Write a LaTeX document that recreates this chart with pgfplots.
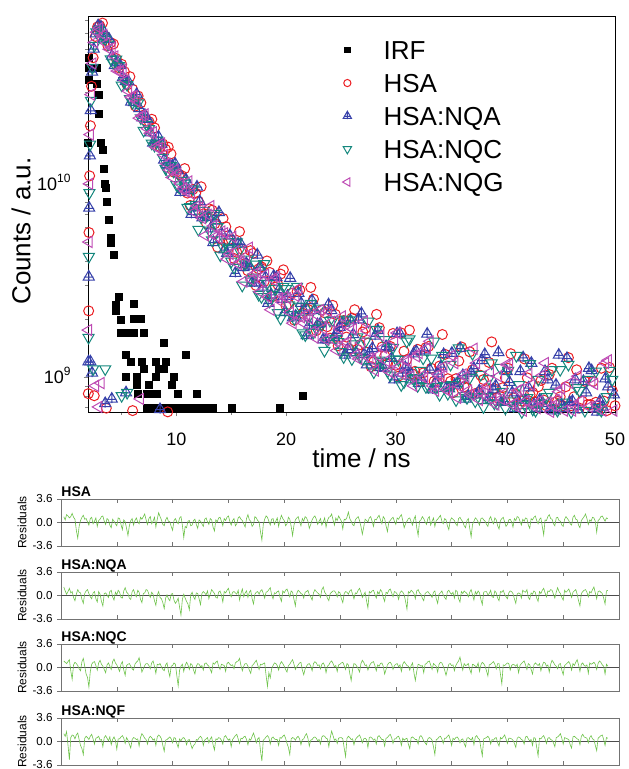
\documentclass[border=0pt]{standalone}
\usepackage{fontspec}
\setmainfont{Liberation Sans}
\usepackage{pgfplots}
\usepackage{pgfplotstable}
\pgfplotsset{compat=1.18}

\definecolor{cHSA}{RGB}{235,30,35}
\definecolor{cNQA}{RGB}{55,65,170}
\definecolor{cNQC}{RGB}{20,135,125}
\definecolor{cNQG}{RGB}{190,75,180}
\definecolor{cRes}{RGB}{110,195,75}

% up triangle with a cross through it (HSA:NQA)
\pgfdeclareplotmark{tricross}{%
  \pgfpathmoveto{\pgfqpoint{0pt}{\pgfplotmarksize}}%
  \pgfpathlineto{\pgfqpoint{-0.866\pgfplotmarksize}{-0.5\pgfplotmarksize}}%
  \pgfpathlineto{\pgfqpoint{0.866\pgfplotmarksize}{-0.5\pgfplotmarksize}}%
  \pgfpathclose
  \pgfpathmoveto{\pgfqpoint{0pt}{\pgfplotmarksize}}%
  \pgfpathlineto{\pgfqpoint{0pt}{-0.65\pgfplotmarksize}}%
  \pgfpathmoveto{\pgfqpoint{-0.75\pgfplotmarksize}{-0.05\pgfplotmarksize}}%
  \pgfpathlineto{\pgfqpoint{0.75\pgfplotmarksize}{-0.05\pgfplotmarksize}}%
  \pgfusepathqstroke}

% residuals, evenly sampled (391 channels each)
\pgfplotstableread[row sep=\\,header=false]{
0.9\\0.4\\1.2\\1.0\\0.7\\0.9\\1.4\\0.8\\0.5\\-1.2\\-2.4\\-0.6\\0.3\\0.8\\1.1\\0.5\\0.6\\0.1\\-0.4\\0.6\\
0.8\\-0.2\\0.2\\0.7\\-0.6\\0.3\\0.5\\0.9\\1.0\\0.2\\-0.3\\0.6\\0.4\\-0.4\\-0.8\\0.5\\0.2\\-0.2\\-0.5\\0.7\\
0.6\\-0.3\\-1.1\\0.4\\0.1\\-0.9\\-2.0\\-0.5\\0.3\\0.6\\-0.4\\0.3\\0.7\\0.1\\-0.2\\0.8\\0.5\\0.9\\1.3\\0.4\\
-0.3\\0.6\\0.9\\-0.2\\0.2\\0.8\\-0.7\\0.5\\1.5\\0.9\\0.4\\-0.3\\-0.5\\0.4\\0.8\\0.2\\0.1\\-0.6\\-1.2\\0.3\\
0.6\\0.1\\-0.2\\0.7\\0.9\\-0.4\\-2.3\\-0.6\\-0.8\\0.2\\0.3\\-0.5\\-0.4\\0.3\\0.5\\-0.3\\-0.9\\0.4\\0.2\\-0.2\\
-0.6\\0.5\\0.7\\0.1\\-0.3\\0.6\\0.4\\-0.7\\-1.3\\0.4\\0.1\\0.7\\0.8\\0.2\\-0.5\\0.6\\0.3\\0.8\\1.0\\0.2\\
-0.4\\0.3\\0.6\\-0.5\\-0.2\\0.7\\0.9\\0.5\\0.3\\-0.2\\-0.7\\0.6\\1.2\\0.4\\0.2\\-0.6\\-0.3\\0.9\\0.7\\0.3\\
0.1\\-1.4\\-2.7\\-0.3\\0.5\\1.0\\0.8\\0.2\\-0.4\\0.5\\0.6\\-0.3\\0.2\\0.7\\-0.6\\0.4\\1.1\\0.6\\0.3\\-0.5\\
-0.2\\0.8\\0.5\\-0.6\\-2.0\\-0.4\\0.4\\0.7\\0.9\\0.1\\-0.5\\0.6\\0.2\\0.9\\0.7\\0.2\\-0.9\\-0.3\\0.4\\0.8\\
1.0\\0.5\\-0.3\\0.2\\0.6\\-0.4\\0.1\\0.7\\-0.7\\0.3\\0.8\\0.9\\1.3\\0.4\\-0.4\\0.7\\0.3\\1.0\\0.6\\0.2\\
-1.0\\0.5\\0.4\\0.8\\1.6\\0.6\\0.2\\-0.3\\-0.5\\0.4\\0.7\\0.9\\0.3\\-0.6\\-1.8\\-0.7\\0.5\\0.3\\0.1\\0.7\\
0.9\\0.2\\-0.6\\0.5\\0.4\\0.8\\1.1\\0.4\\-0.2\\0.9\\0.6\\-0.5\\-1.4\\0.1\\0.3\\0.6\\0.8\\0.2\\-0.3\\0.7\\
0.5\\0.9\\1.2\\0.3\\-0.8\\-0.2\\0.2\\0.6\\0.7\\0.1\\-0.4\\0.5\\1.0\\-0.8\\-2.0\\0.2\\0.4\\0.9\\0.6\\0.1\\
-0.3\\0.6\\0.9\\-0.4\\0.2\\0.7\\-0.6\\0.3\\0.5\\0.8\\1.1\\0.2\\-0.2\\0.6\\0.4\\-0.5\\-1.1\\0.3\\0.7\\0.5\\
0.3\\-0.2\\-0.5\\0.6\\0.8\\0.4\\0.1\\-0.5\\-0.8\\0.3\\0.6\\-0.9\\-2.2\\-0.3\\0.2\\0.7\\0.5\\0.1\\-0.4\\0.6\\
0.7\\0.4\\0.2\\-0.3\\-0.6\\0.5\\0.9\\0.2\\-0.2\\0.7\\0.4\\-0.5\\-1.0\\0.3\\0.6\\0.8\\0.1\\-0.6\\-0.3\\0.4\\
0.5\\0.1\\-0.7\\0.6\\0.3\\0.9\\0.8\\0.2\\-0.4\\0.5\\0.2\\0.7\\0.6\\-0.4\\-0.9\\0.6\\0.4\\0.8\\1.0\\0.3\\
-0.2\\0.5\\0.7\\-0.6\\-1.9\\0.4\\0.3\\0.9\\1.2\\0.6\\0.5\\-0.2\\-0.5\\0.7\\0.8\\0.3\\0.2\\-0.4\\-0.6\\0.5\\
0.9\\0.6\\0.3\\-0.2\\-0.4\\0.8\\1.1\\0.5\\0.4\\-0.4\\-0.8\\0.3\\0.6\\0.9\\1.3\\0.6\\-0.3\\0.4\\0.2\\0.8\\
0.7\\0.2\\-1.5\\0.3\\0.5\\0.9\\1.0\\0.6\\0.2\\0.7\\0.6\\
}\resA
\pgfplotstableread[row sep=\\,header=false]{
1.3\\0.7\\0.2\\0.6\\1.1\\0.4\\0.6\\-0.3\\-0.8\\0.2\\0.9\\0.5\\0.4\\-0.6\\-1.2\\0.3\\0.7\\0.9\\0.3\\-0.2\\
-0.5\\0.4\\0.6\\-0.5\\-1.0\\0.6\\0.2\\-0.9\\-1.6\\0.3\\0.4\\0.1\\-0.3\\0.6\\0.8\\-0.2\\-0.7\\0.5\\0.1\\0.8\\
0.5\\-0.3\\-0.4\\0.7\\1.2\\0.5\\0.3\\-0.4\\-0.6\\0.6\\0.9\\0.2\\-0.2\\0.8\\0.5\\-0.6\\-1.1\\0.3\\0.4\\0.9\\
0.8\\0.2\\-0.3\\0.5\\0.2\\-0.8\\-1.5\\0.1\\0.6\\-0.3\\-0.5\\-1.1\\-2.0\\-0.4\\0.1\\-0.5\\-0.8\\0.2\\0.3\\-0.7\\
-1.2\\-0.9\\-0.4\\-1.8\\-3.0\\-0.6\\0.2\\-0.4\\-0.9\\-1.3\\-2.2\\0.1\\0.5\\-0.2\\-0.6\\0.4\\0.3\\-0.5\\-1.4\\0.3\\
0.6\\0.4\\0.1\\0.7\\-0.5\\0.2\\0.9\\0.6\\0.3\\-0.3\\-0.4\\0.5\\0.7\\0.1\\-1.0\\0.6\\0.4\\0.8\\1.1\\0.3\\
-0.2\\0.5\\0.6\\0.4\\0.2\\0.8\\-0.7\\0.3\\1.0\\-0.2\\0.4\\0.7\\-0.3\\0.5\\0.8\\-0.5\\-1.3\\0.2\\0.5\\0.6\\
0.2\\0.7\\0.9\\0.3\\-0.4\\0.5\\0.6\\0.9\\1.2\\0.1\\-0.5\\0.4\\0.3\\0.6\\0.7\\-0.3\\-0.9\\0.7\\0.4\\0.8\\
1.0\\0.4\\-0.2\\0.7\\0.5\\-0.6\\-1.6\\0.3\\0.8\\0.6\\0.3\\0.2\\-0.4\\0.5\\0.6\\0.8\\0.1\\-0.2\\-0.7\\0.4\\
0.9\\0.6\\0.4\\0.2\\-0.3\\0.9\\1.3\\0.5\\0.2\\-0.4\\-0.8\\0.3\\0.5\\0.7\\0.7\\0.4\\-0.2\\0.6\\0.4\\-0.5\\
-1.1\\0.3\\0.6\\0.5\\0.2\\0.7\\0.9\\0.2\\-0.5\\0.4\\0.3\\0.8\\1.1\\0.5\\-0.3\\0.1\\0.5\\-0.8\\-1.9\\0.6\\
0.4\\0.7\\0.8\\0.2\\-0.4\\0.6\\0.2\\0.9\\0.6\\-0.3\\-0.9\\0.5\\0.3\\0.8\\1.0\\0.4\\-0.2\\0.6\\0.5\\0.2\\
-0.6\\0.4\\0.7\\0.5\\0.1\\-0.9\\-2.1\\0.6\\0.4\\0.8\\0.6\\0.3\\-0.5\\0.7\\0.9\\0.4\\0.2\\-0.4\\-0.8\\0.3\\
0.5\\0.6\\0.3\\0.1\\-0.3\\0.5\\0.7\\-0.5\\-1.2\\0.2\\0.4\\0.7\\0.1\\-0.3\\-0.6\\0.6\\0.8\\0.4\\0.2\\0.5\\
-0.4\\0.8\\0.6\\-0.5\\-1.0\\0.6\\0.3\\0.7\\0.5\\0.3\\-0.2\\0.5\\0.9\\0.1\\-0.7\\0.6\\0.2\\0.7\\0.4\\-0.6\\
-1.4\\0.5\\0.6\\0.6\\0.1\\0.3\\0.8\\-0.2\\-0.3\\0.7\\0.4\\-0.4\\-0.8\\0.6\\0.5\\0.8\\0.2\\-0.2\\-0.5\\0.4\\
0.7\\0.6\\0.3\\-0.5\\-1.2\\0.2\\0.4\\0.3\\-0.4\\0.8\\0.6\\0.5\\0.9\\-0.3\\-0.6\\0.4\\0.2\\0.7\\0.5\\-0.4\\
-0.9\\0.6\\0.3\\0.8\\1.1\\0.4\\-0.2\\0.7\\0.6\\0.9\\0.8\\0.2\\-0.4\\0.5\\1.2\\0.6\\0.3\\-0.3\\-0.7\\0.8\\
0.5\\0.7\\1.0\\0.4\\-0.3\\0.5\\0.7\\0.9\\0.2\\-0.8\\-1.6\\0.3\\0.6\\0.8\\0.9\\0.5\\-0.2\\0.6\\0.4\\0.9\\
1.3\\0.4\\-0.5\\0.6\\0.7\\0.5\\0.3\\-0.4\\-1.3\\0.7\\0.8\\
}\resB
\pgfplotstableread[row sep=\\,header=false]{
1.0\\0.8\\0.6\\0.9\\1.2\\-0.5\\-1.8\\0.4\\0.8\\0.6\\0.3\\-0.2\\-0.5\\0.9\\1.4\\0.2\\-1.0\\-1.5\\-3.0\\-0.6\\
0.5\\0.8\\0.9\\0.3\\-0.4\\0.7\\1.1\\0.5\\0.2\\-0.3\\-0.8\\0.4\\0.7\\0.2\\-0.3\\0.9\\1.3\\0.7\\0.4\\-0.1\\
-0.6\\0.5\\0.9\\-0.4\\-1.2\\0.3\\0.5\\0.6\\0.2\\-0.2\\-0.4\\0.5\\0.8\\1.0\\1.5\\0.4\\-0.7\\-0.2\\0.3\\0.6\\
0.6\\0.3\\-0.2\\0.7\\1.0\\0.2\\-0.9\\0.5\\0.4\\0.6\\0.1\\-0.3\\-0.5\\0.4\\0.7\\-0.5\\-1.4\\0.2\\0.3\\0.7\\
0.5\\-1.2\\-2.8\\-0.4\\0.2\\0.5\\-0.6\\0.3\\0.8\\0.4\\-0.3\\0.6\\0.4\\-0.4\\-1.0\\0.2\\0.6\\0.5\\0.1\\0.3\\
-0.4\\0.6\\0.7\\0.4\\0.2\\-0.3\\-0.8\\0.7\\0.5\\0.8\\1.0\\0.2\\-0.3\\0.5\\0.4\\0.3\\-0.6\\0.6\\0.8\\0.5\\
0.3\\0.4\\-0.2\\0.7\\0.9\\1.0\\1.4\\0.3\\-0.5\\0.2\\0.6\\0.6\\0.2\\-0.4\\-0.9\\0.3\\0.5\\0.8\\1.1\\0.4\\
-0.3\\0.5\\0.4\\0.6\\0.7\\-1.2\\-2.9\\-0.8\\-1.6\\-0.2\\0.3\\0.7\\0.6\\0.3\\-0.4\\0.5\\0.9\\0.6\\0.2\\-0.3\\
-0.7\\0.3\\0.5\\0.9\\1.2\\0.5\\-0.3\\0.1\\0.4\\0.7\\0.8\\-0.4\\-1.1\\-0.2\\0.2\\0.5\\0.6\\0.2\\-0.5\\0.6\\
0.9\\0.7\\0.3\\0.4\\-0.2\\0.5\\0.7\\0.3\\-0.8\\0.2\\0.4\\0.8\\1.0\\0.6\\0.1\\0.3\\-0.6\\0.4\\0.5\\0.7\\
0.8\\0.3\\-0.3\\0.6\\0.4\\-0.9\\-2.0\\-0.3\\0.6\\0.5\\0.2\\-0.2\\-0.7\\0.6\\1.1\\0.8\\0.3\\0.4\\-0.4\\0.2\\
0.6\\0.8\\0.9\\0.3\\-0.5\\0.4\\0.2\\0.6\\0.7\\0.2\\-1.0\\-0.3\\0.4\\0.7\\0.8\\0.5\\-0.3\\0.3\\0.5\\0.6\\
0.1\\0.4\\-0.6\\0.5\\0.9\\0.6\\0.3\\0.2\\-0.4\\0.3\\0.7\\-0.8\\-2.0\\-0.6\\0.5\\0.4\\0.2\\0.3\\-0.8\\0.5\\
0.6\\0.9\\1.0\\0.4\\-0.3\\0.6\\0.4\\0.2\\-0.7\\0.5\\0.8\\0.7\\0.2\\-0.4\\-1.2\\-0.3\\0.5\\0.6\\0.3\\0.4\\
-0.5\\0.3\\0.7\\1.0\\1.6\\0.5\\-0.4\\0.6\\0.3\\0.4\\0.6\\-0.3\\-0.9\\0.5\\0.4\\0.2\\0.1\\0.7\\-0.6\\0.4\\
0.8\\0.6\\0.2\\-0.5\\-1.3\\0.4\\0.5\\0.7\\0.9\\0.5\\-0.2\\0.6\\0.6\\-1.0\\-2.5\\0.4\\0.3\\0.5\\0.7\\0.6\\
-0.4\\0.3\\0.5\\0.4\\0.2\\0.5\\-0.8\\0.3\\0.6\\0.8\\1.0\\0.4\\-0.3\\0.6\\0.4\\-0.3\\-1.0\\0.4\\0.7\\0.5\\
0.3\\0.6\\-0.5\\0.3\\0.8\\0.7\\0.2\\0.4\\-0.7\\0.5\\1.1\\0.8\\0.4\\0.2\\-0.2\\0.5\\0.6\\-0.4\\-1.1\\0.3\\
0.5\\0.7\\0.9\\0.5\\-0.4\\0.6\\0.3\\0.8\\1.2\\0.4\\-0.6\\0.5\\0.7\\0.3\\0.2\\0.4\\-0.9\\0.7\\0.5\\0.6\\
0.8\\0.5\\-0.3\\0.6\\1.0\\0.8\\0.4\\0.2\\-1.0\\0.5\\0.2\\
}\resC
\pgfplotstableread[row sep=\\,header=false]{
1.2\\0.8\\1.5\\-0.5\\-2.8\\0.6\\1.0\\0.9\\0.4\\1.0\\1.3\\0.3\\-0.6\\-1.1\\-2.0\\0.5\\0.8\\0.6\\0.3\\0.8\\
1.1\\0.4\\-0.4\\0.5\\0.6\\0.8\\0.2\\0.3\\-0.8\\0.6\\0.9\\0.5\\0.1\\0.7\\-0.5\\0.3\\0.7\\0.2\\-1.2\\0.4\\
0.4\\0.7\\0.9\\0.5\\-0.3\\0.6\\0.2\\-0.4\\-1.0\\0.3\\0.6\\0.5\\0.3\\0.4\\-0.7\\0.6\\1.2\\0.9\\0.5\\0.3\\
-0.4\\0.5\\0.8\\0.6\\0.2\\0.4\\-0.6\\0.7\\1.0\\0.8\\0.4\\-0.6\\-1.5\\0.2\\0.3\\0.5\\0.7\\0.4\\-0.2\\0.6\\
0.5\\-0.3\\-0.9\\0.4\\0.1\\0.5\\0.6\\0.3\\-0.5\\0.2\\0.3\\-0.4\\-1.1\\-0.6\\-0.4\\0.3\\0.2\\0.6\\0.8\\0.5\\
-0.6\\0.2\\0.4\\0.6\\-0.2\\0.4\\0.7\\-0.5\\-1.3\\0.4\\0.3\\0.6\\0.5\\0.2\\-0.4\\0.7\\0.9\\0.5\\0.2\\0.4\\
-0.8\\0.3\\0.6\\0.9\\1.1\\0.4\\-0.3\\0.5\\0.4\\0.7\\0.8\\0.3\\-0.5\\0.4\\0.2\\0.8\\1.3\\0.6\\-0.2\\0.4\\
0.6\\-1.4\\-3.0\\0.2\\0.4\\0.7\\0.9\\0.6\\-0.4\\0.5\\0.7\\0.4\\0.3\\0.3\\-0.6\\0.6\\0.5\\0.8\\1.0\\0.5\\
-0.3\\-0.9\\-2.0\\0.4\\0.6\\0.5\\0.2\\0.6\\0.8\\0.4\\-0.5\\0.3\\0.4\\0.9\\1.2\\0.5\\-0.7\\0.2\\0.3\\0.6\\
0.7\\0.5\\0.1\\0.3\\-0.4\\0.7\\0.9\\0.8\\0.5\\0.4\\-0.8\\0.6\\1.6\\0.9\\0.2\\0.4\\-0.3\\0.5\\0.6\\0.6\\
0.4\\-1.0\\-2.3\\0.5\\0.8\\0.6\\0.3\\0.4\\-0.5\\0.3\\0.6\\0.8\\1.0\\0.5\\-0.2\\0.4\\0.5\\0.3\\-0.9\\0.6\\
0.7\\0.5\\0.2\\0.4\\-0.4\\0.7\\0.9\\0.6\\0.3\\0.3\\-0.7\\0.5\\0.6\\0.9\\1.1\\0.6\\-0.3\\0.4\\0.4\\0.7\\
0.8\\0.3\\-0.6\\0.5\\0.2\\0.4\\0.5\\-0.4\\-1.1\\0.6\\0.7\\0.5\\0.3\\0.3\\-0.4\\0.7\\0.9\\0.6\\0.1\\-0.2\\
-0.5\\0.4\\0.6\\0.5\\0.2\\-0.8\\-2.0\\0.3\\0.4\\0.7\\0.8\\0.4\\-0.3\\0.5\\0.5\\0.8\\1.0\\0.3\\-0.6\\0.5\\
0.3\\0.6\\0.7\\0.4\\-0.2\\0.3\\0.4\\-0.3\\-0.8\\0.5\\0.6\\0.4\\0.2\\0.6\\-0.5\\0.7\\0.9\\0.5\\0.3\\-1.0\\
-2.2\\0.4\\0.5\\0.6\\0.8\\0.5\\-0.4\\0.3\\0.2\\0.5\\0.6\\-0.2\\-0.7\\0.6\\0.4\\0.7\\1.0\\0.4\\-0.3\\0.5\\
0.5\\0.4\\0.2\\-0.3\\-0.9\\0.5\\0.7\\0.6\\0.3\\0.2\\-0.4\\0.7\\0.8\\0.4\\0.1\\0.3\\-0.6\\0.6\\0.5\\-0.9\\
-2.2\\0.5\\0.4\\0.7\\0.9\\0.4\\-0.3\\0.5\\0.6\\0.3\\0.2\\-0.2\\-0.8\\0.6\\0.7\\0.9\\1.2\\0.5\\-0.4\\0.6\\
0.5\\0.4\\0.3\\-0.5\\-1.0\\0.7\\0.8\\0.6\\0.4\\0.3\\-0.5\\0.8\\1.1\\0.7\\0.6\\0.5\\-0.2\\0.6\\0.9\\0.4\\
0.3\\-0.6\\-1.4\\0.5\\0.7\\0.9\\1.0\\0.3\\-0.6\\0.6\\0.5\\
}\resD

\pgfplotsset{
  resid/.style={anchor=south west, scale only axis, width=279pt, height=23.5pt,
    xmin=0, xmax=10, ymin=-3.6, ymax=3.6,
    xtick={0,1,...,10}, xticklabels={}, ytick={-3.6,0,3.6}, yticklabels={-3.6,0.0,3.6},
    tick align=inside, xtick pos=both, ytick pos=left, major tick length=1.8pt,
    y tick style={xshift=-1.8pt},
    axis line style={black!55}, tick style={black!55},
    tick label style={font=\fontsize{5.8}{6}\selectfont},
    yticklabel style={inner sep=0pt, xshift=-4pt},
    ylabel={Residuals},
    every axis y label/.style={at={(axis description cs:-0.0699,0.5)}, rotate=90, anchor=center, font=\fontsize{6}{7}\selectfont},
    every axis title/.style={at={(axis description cs:0,1)}, anchor=base west, inner sep=0pt, yshift=1pt, font=\bfseries\fontsize{7}{8}\selectfont}
  },
  resline/.style={cRes, line width=0.3pt}
}

\begin{document}
\begin{tikzpicture}
\useasboundingbox (0,0) rectangle (314pt,384.5pt);

% decay curves, counts in units of 1e9
\begin{axis}[at={(44pt,178.5pt)}, anchor=south west, scale only axis, width=263.5pt, height=198pt,
  ymode=log, xmin=1.93, xmax=50, ymin=0.659, ymax=74,
  xtick={10,20,30,40,50}, minor xtick={5,15,25,35,45},
  ytick={1,10}, yticklabels={10\textsuperscript{9},10\textsuperscript{10}},
  minor ytick={0.7,0.8,0.9,2,3,4,5,6,7,8,9,20,30,40,50,60,70},
  xtick pos=bottom, ytick pos=left, tick align=outside,
  major tick length=2.2pt, minor tick length=1.6pt,
  tick label style={font=\fontsize{9}{10}\selectfont},
  /pgf/number format/assume math mode=true,
  xticklabel style={yshift=-4.5pt},
  yticklabel style={anchor=base east, yshift=-3.2pt, xshift=-2.5pt},
  xlabel={time / ns}, ylabel={Counts / a.u.},
  every axis x label/.style={at={(axis description cs:0.519,-0.139)}, anchor=base, font=\fontsize{13}{15}\selectfont},
  every axis y label/.style={at={(axis description cs:-0.127,0.457)}, rotate=90, anchor=center, font=\fontsize{13}{15}\selectfont},
  legend cell align=left,
  legend image code/.code={\path (-0.3cm,0cm) (0.63cm,0cm); \draw[#1] plot coordinates {(0cm,0cm)};},
  legend style={draw=none, fill=none, inner sep=0pt, outer sep=0pt,
    at={(axis description cs:0.459,0.938)}, anchor=north west, row sep=7pt,
    font=\fontsize{13}{15}\selectfont, nodes={inner sep=0pt, text height=9.5pt, text depth=0pt}}
]
\addplot[only marks, mark=square*, mark size=1.75pt, black, legend image post style={mark size=1.3pt}] coordinates {
(1.95,16.3)(1.98,34.5)(2.0,40)(2.03,45)
(2.72,40)(2.75,33)(2.9,29)(2.95,23)(3.09,16.3)(3.27,15)(3.36,12)(3.5,10)(3.58,9.5)(3.64,8.1)
(3.82,6.5)(4.0,5.25)(4.05,4.95)(4.27,4.3)(4.73,2.6)(4.46,2.35)(4.5,2.2)(6.1,2.4)(4.91,1.98)
(6.1,2.0)(6.74,2.0)(4.91,1.7)(5.46,1.7)(6.1,1.7)(7.0,1.7)(8.84,1.5)(5.37,1.3)(10.85,1.3)
(5.83,1.2)(6.83,1.2)(8.1,1.2)(9.0,1.2)(7.0,1.1)(8.4,1.1)(8.84,1.1)(5.37,1.0)(6.37,1.0)
(8.1,1.0)(9.75,1.0)(6.37,0.91)(7.47,0.91)(9.57,0.91)(6.5,0.82)(7.3,0.82)(7.9,0.82)(8.2,0.82)
(10.1,0.82)(11.85,0.82)(7.3,0.69)(7.8,0.69)(8.3,0.69)(8.8,0.69)(9.3,0.69)(9.8,0.69)(10.3,0.69)
(10.8,0.69)(11.3,0.69)(11.8,0.69)(12.3,0.69)(12.8,0.69)(13.3,0.69)(15.1,0.69)(19.4,0.69)(21.5,0.8)
};
\addlegendentry{IRF}
\addplot[only marks, mark=o, mark size=2.5pt, cHSA, mark options={line width=0.5pt}, legend image post style={mark size=1.8pt}] coordinates {
(1.96,0.82)(1.99,2.2)(2.02,5.6)(2.08,11)(2.15,20)(2.25,32)(2.4,45)(2.6,58)(2.8,65)
(2.5,0.8)(3.6,0.69)(6.0,0.67)(9.2,0.66)
(3.0,66)(3.5,58.1)(4.0,53.8)(4.5,44.5)(5.0,41.6)(5.5,32.5)(6.0,30.9)(6.5,28.5)(7.0,22.7)(7.5,21.0)
(8.0,19.5)(8.5,15.5)(9.0,15.1)(9.5,14.3)(10.0,11.5)(10.5,11.0)(11.0,8.96)(11.5,9.36)(12.0,8.13)
(12.5,7.00)(13.0,7.42)(13.5,6.22)(14.0,5.19)(14.5,6.00)(15.0,5.13)(15.5,4.42)(16.0,4.59)(16.5,3.55)
(17.0,4.37)(17.5,3.63)(18.0,3.12)(18.5,3.48)(19.0,2.92)(19.5,3.41)(20.0,2.33)(20.5,2.71)(21.0,2.77)
(21.5,2.14)(22.0,2.24)(22.5,2.53)(23.0,1.84)(23.5,2.15)(24.0,1.59)(24.5,2.11)(25.0,1.82)(25.5,1.61)
(26.0,2.02)(26.5,1.39)(27.0,1.71)(27.5,1.50)(28.0,1.20)(28.5,1.80)(29.0,1.29)(29.5,1.44)(30.0,1.15)
(30.5,1.69)(31.0,1.23)(31.5,1.04)(32.0,1.39)(32.5,1.05)(33.0,1.44)(33.5,0.95)(34.0,1.14)(34.5,1.31)
(35.0,0.95)(35.5,0.98)(36.0,1.43)(36.5,0.88)(37.0,1.09)(37.5,0.83)(38.0,0.97)(38.5,1.19)(39.0,0.87)
(39.5,0.80)(40.0,0.99)(40.5,1.32)(41.0,0.81)(41.5,0.75)(42.0,0.99)(42.5,0.83)(43.0,0.89)(43.5,0.76)
(44.0,1.03)(44.5,0.74)(45.0,0.79)(45.5,0.89)(46.0,0.71)(46.5,1.09)(47.0,0.75)(47.5,0.72)(48.0,0.95)
(48.5,0.69)(49.0,0.75)(49.5,1.12)(50.0,0.71)
(3.25,68)(3.75,51.8)(4.25,53.0)(4.75,39.9)(5.25,38.1)(5.75,35.9)(6.25,25.3)(6.75,26.3)(7.25,21.2)
(7.75,21.6)(8.25,15.8)(8.75,16.1)(9.25,15.5)(9.75,11.5)(10.25,11.2)(10.75,12.0)(11.25,7.73)(11.75,8.94)
(12.25,9.66)(12.75,6.22)(13.25,7.31)(13.75,4.70)(14.25,6.62)(14.75,5.13)(15.25,4.11)(15.75,5.66)
(16.25,3.87)(16.75,4.51)(17.25,2.98)(17.75,3.72)(18.25,3.99)(18.75,2.60)(19.25,3.01)(19.75,3.59)
(20.25,2.38)(20.75,1.97)(21.25,2.82)(21.75,2.25)(22.25,2.91)(22.75,1.74)(23.25,2.22)(23.75,1.82)
(24.25,2.35)(24.75,1.45)(25.25,1.96)(25.75,1.40)(26.25,2.23)(26.75,1.47)(27.25,1.79)(27.75,1.13)
(28.25,2.11)(28.75,1.43)(29.25,1.17)(29.75,1.68)(30.25,1.01)(30.75,1.36)(31.25,1.75)(31.75,1.07)
(32.25,0.95)(32.75,1.42)(33.25,1.11)(33.75,0.94)(34.25,1.66)(34.75,0.98)(35.25,0.83)(35.75,1.21)
(36.25,0.89)(36.75,1.35)(37.25,0.82)(37.75,1.02)(38.25,0.86)(38.75,1.52)(39.25,0.78)(39.75,0.88)
(40.25,1.11)(40.75,0.78)(41.25,0.72)(41.75,1.24)(42.25,0.81)(42.75,0.74)(43.25,0.96)(43.75,0.71)
(44.25,1.11)(44.75,0.75)(45.25,0.71)(45.75,1.26)(46.25,0.79)(46.75,0.69)(47.25,0.95)(47.75,0.72)
(48.25,0.74)(48.75,1.11)(49.25,0.67)(49.75,0.85)
};
\addlegendentry{HSA}
\addplot[only marks, mark=tricross, mark size=3.2pt, cNQA, mark options={line width=0.5pt}, legend image post style={mark size=2.4pt}] coordinates {
(1.97,1.2)(2.0,3.3)(2.04,7.5)(2.1,14)(2.18,24)(2.3,38)(2.45,50)(2.65,60)(2.85,66)
(2.15,1.2)(2.3,1.05)(3.5,0.73)(4.1,0.77)(5.4,0.83)(8.5,0.68)
(3.12,64.9)(3.62,58.1)(4.12,45.9)(4.62,42.8)(5.12,35.6)(5.62,33.8)(6.12,26.4)(6.62,24.6)(7.12,22.7)
(7.62,18.4)(8.12,16.7)(8.62,16.1)(9.12,12.6)(9.62,12.4)(10.12,11.7)(10.62,9.41)(11.12,9.25)
(11.62,7.52)(12.12,8.11)(12.62,6.73)(13.12,5.87)(13.62,6.43)(14.12,5.53)(14.62,4.38)(15.12,4.88)
(15.62,4.89)(16.12,3.69)(16.62,3.76)(17.12,3.08)(17.62,3.71)(18.12,3.28)(18.62,2.67)(19.12,3.28)
(19.62,2.53)(20.12,2.62)(20.62,2.03)(21.12,2.72)(21.62,2.21)(22.12,1.86)(22.62,2.21)(23.12,1.89)
(23.62,1.56)(24.12,2.21)(24.62,1.69)(25.12,1.90)(25.62,1.39)(26.12,1.66)(26.62,1.98)(27.12,1.31)
(27.62,1.34)(28.12,1.63)(28.62,1.12)(29.12,1.44)(29.62,1.25)(30.12,1.68)(30.62,1.05)(31.12,1.10)
(31.62,1.32)(32.12,0.93)(32.62,1.37)(33.12,1.09)(33.62,0.93)(34.12,1.13)(34.62,0.88)(35.12,1.33)
(35.62,0.93)(36.12,1.02)(36.62,0.80)(37.12,1.11)(37.62,0.85)(38.12,1.31)(38.62,0.79)(39.12,0.90)
(39.62,0.74)(40.12,1.07)(40.62,0.83)(41.12,0.76)(41.62,1.26)(42.12,0.88)(42.62,0.72)(43.12,0.76)
(43.62,1.07)(44.12,0.69)(44.62,0.91)(45.12,0.72)(45.62,1.25)(46.12,0.75)(46.62,0.68)(47.12,0.95)
(47.62,1.11)(48.12,0.69)(48.62,0.75)(49.12,0.98)(49.62,0.65)(49.9,0.81)
(3.37,56.4)(3.87,56.0)(4.37,41.0)(4.87,41.1)(5.37,33.9)(5.87,26.6)(6.37,29.1)(6.87,22.0)(7.37,21.6)
(7.87,16.3)(8.37,17.5)(8.87,13.3)(9.37,12.5)(9.87,12.7)(10.37,9.06)(10.87,10.5)(11.37,6.96)(11.87,9.65)
(12.37,6.69)(12.87,6.77)(13.37,4.98)(13.87,7.12)(14.37,4.56)(14.87,5.40)(15.37,3.45)(15.87,4.88)
(16.37,3.88)(16.87,3.07)(17.37,4.29)(17.87,2.93)(18.37,2.41)(18.87,3.33)(19.37,2.84)(19.87,2.16)
(20.37,3.25)(20.87,2.07)(21.37,2.41)(21.87,1.64)(22.37,2.49)(22.87,1.87)(23.37,1.56)(23.87,2.37)
(24.37,1.61)(24.87,1.81)(25.37,1.30)(25.87,1.96)(26.37,1.34)(26.87,2.13)(27.37,1.16)(27.87,1.41)
(28.37,1.74)(28.87,1.11)(29.37,1.42)(29.87,0.97)(30.37,1.68)(30.87,1.12)(31.37,0.97)(31.87,1.36)
(32.37,0.97)(32.87,1.67)(33.37,0.86)(33.87,1.04)(34.37,1.31)(34.87,0.87)(35.37,0.91)(35.87,1.41)
(36.37,0.77)(36.87,1.05)(37.37,0.81)(37.87,1.22)(38.37,0.76)(38.87,0.86)(39.37,1.34)(39.87,0.75)
(40.37,0.94)(40.87,0.69)(41.37,1.07)(41.87,0.76)(42.37,1.18)(42.87,0.69)(43.37,0.73)(43.87,0.97)
(44.37,0.67)(44.87,1.30)(45.37,0.69)(45.87,0.74)(46.37,0.97)(46.87,0.63)(47.37,0.83)(47.87,1.08)
(48.37,0.66)(48.87,0.70)(49.37,0.89)(49.87,0.62)
};
\addlegendentry{HSA:NQA}
\addplot[only marks, mark=triangle, mark size=3.2pt, cNQC, mark options={rotate=180, line width=0.5pt}, legend image post style={mark size=2.4pt}] coordinates {
(1.98,1.6)(2.01,4.2)(2.06,9)(2.12,16)(2.2,27)(2.33,40)(2.5,52)(2.7,61)(2.95,63)
(2.4,1.1)(3.5,1.1)(5.0,0.8)(5.5,0.83)
(3.25,57.9)(3.75,52.8)(4.25,42.2)(4.75,40.8)(5.25,33.7)(5.75,27.6)(6.25,27.0)(6.75,21.9)(7.25,20.3)
(7.75,16.2)(8.25,16.8)(8.75,13.7)(9.25,11.6)(9.75,11.6)(10.25,9.59)(10.75,10.1)(11.25,7.60)
(11.75,7.82)(12.25,6.71)(12.75,6.83)(13.25,5.11)(13.75,5.99)(14.25,4.69)(14.75,4.62)(15.25,3.69)
(15.75,4.51)(16.25,3.84)(16.75,3.18)(17.25,3.83)(17.75,2.60)(18.25,3.05)(18.75,2.67)(19.25,2.15)
(19.75,2.94)(20.25,2.36)(20.75,2.00)(21.25,2.32)(21.75,1.65)(22.25,2.40)(22.75,1.78)(23.25,1.86)
(23.75,1.54)(24.25,1.97)(24.75,1.52)(25.25,1.27)(25.75,1.97)(26.25,1.48)(26.75,1.27)(27.25,1.53)
(27.75,1.13)(28.25,1.76)(28.75,1.20)(29.25,1.07)(29.75,1.42)(30.25,1.23)(30.75,0.94)(31.25,1.57)
(31.75,0.98)(32.25,1.08)(32.75,0.89)(33.25,1.25)(33.75,0.89)(34.25,1.29)(34.75,0.82)(35.25,0.91)
(35.75,1.41)(36.25,0.80)(36.75,0.99)(37.25,0.75)(37.75,1.03)(38.25,0.79)(38.75,1.18)(39.25,0.73)
(39.75,0.84)(40.25,1.08)(40.75,0.71)(41.25,0.91)(41.75,0.72)(42.25,1.17)(42.75,0.67)(43.25,0.73)
(43.75,0.79)(44.25,1.09)(44.75,0.67)(45.25,0.74)(45.75,1.16)(46.25,0.65)(46.75,0.85)(47.25,0.67)
(47.75,0.63)(48.25,1.07)(48.75,0.67)(49.25,0.79)(49.75,0.97)
(3.5,56.1)(4.0,44.3)(4.5,44.1)(5.0,32.4)(5.5,32.6)(6.0,26.3)(6.5,26.2)(7.0,18.9)(7.5,19.3)
(8.0,15.8)(8.5,15.9)(9.0,12.0)(9.5,12.4)(10.0,9.89)(10.5,10.4)(11.0,7.54)(11.5,9.40)(12.0,5.80)
(12.5,7.28)(13.0,5.75)(13.5,7.01)(14.0,4.27)(14.5,4.99)(15.0,3.97)(15.5,4.99)(16.0,2.98)(16.5,4.07)
(17.0,3.28)(17.5,2.67)(18.0,3.85)(18.5,2.46)(19.0,2.86)(19.5,2.01)(20.0,2.86)(20.5,2.10)(21.0,2.94)
(21.5,1.69)(22.0,2.01)(22.5,1.70)(23.0,2.27)(23.5,1.37)(24.0,1.96)(24.5,1.58)(25.0,1.35)(25.5,1.99)
(26.0,1.24)(26.5,1.61)(27.0,1.24)(27.5,1.94)(28.0,1.06)(28.5,1.22)(29.0,1.56)(29.5,1.02)(30.0,1.24)
(30.5,0.91)(31.0,1.53)(31.5,0.99)(32.0,0.90)(32.5,1.25)(33.0,0.89)(33.5,1.53)(34.0,0.81)(34.5,0.90)
(35.0,1.16)(35.5,0.76)(36.0,0.95)(36.5,0.78)(37.0,1.32)(37.5,0.79)(38.0,0.70)(38.5,0.98)(39.0,0.73)
(39.5,1.12)(40.0,0.69)(40.5,0.75)(41.0,1.29)(41.5,0.66)(42.0,0.78)(42.5,0.68)(43.0,0.97)(43.5,0.63)
(44.0,0.83)(44.5,0.69)(45.0,1.09)(45.5,0.63)(46.0,0.66)(46.5,0.88)(47.0,0.61)(47.5,0.97)(48.0,0.63)
(48.5,0.69)(49.0,0.59)(49.5,1.08)(49.95,0.63)
};
\addlegendentry{HSA:NQC}
\addplot[only marks, mark=triangle, mark size=3.2pt, cNQG, mark options={rotate=90, line width=0.5pt}, legend image post style={mark size=2.4pt}] coordinates {
(1.97,1.75)(2.02,5)(2.07,10)(2.13,18)(2.22,29)(2.36,42)(2.52,54)(2.72,61)(2.95,64)
(2.6,0.9)(3.1,0.93)(2.9,0.7)(6.7,0.77)
(3.37,59.1)(3.87,49.8)(4.37,45.7)(4.87,38.1)(5.37,34.3)(5.87,28.2)(6.37,26.8)(6.87,22.6)(7.37,19.3)
(7.87,18.5)(8.37,15.3)(8.87,14.1)(9.37,11.8)(9.87,11.8)(10.37,10.0)(10.87,9.12)(11.37,8.88)
(11.87,7.68)(12.37,6.64)(12.87,6.91)(13.37,6.05)(13.87,5.24)(14.37,5.55)(14.87,4.34)(15.37,4.46)
(15.87,3.96)(16.37,4.22)(16.87,3.18)(17.37,3.48)(17.87,3.12)(18.37,2.59)(18.87,3.17)(19.37,2.56)
(19.87,2.60)(20.37,2.16)(20.87,2.63)(21.37,2.04)(21.87,2.10)(22.37,1.71)(22.87,2.08)(23.37,1.78)
(23.87,2.19)(24.37,1.55)(24.87,1.77)(25.37,1.50)(25.87,1.80)(26.37,1.30)(26.87,1.50)(27.37,1.73)
(27.87,1.23)(28.37,1.29)(28.87,1.42)(29.37,1.07)(29.87,1.53)(30.37,1.14)(30.87,1.22)(31.37,1.01)
(31.87,1.28)(32.37,1.01)(32.87,1.41)(33.37,0.90)(33.87,1.03)(34.37,1.13)(34.87,0.84)(35.37,1.18)
(35.87,0.89)(36.37,1.00)(36.87,0.81)(37.37,1.18)(37.87,0.82)(38.37,0.90)(38.87,0.76)(39.37,1.01)
(39.87,0.82)(40.37,1.16)(40.87,0.73)(41.37,0.86)(41.87,0.75)(42.37,0.91)(42.87,0.69)(43.37,1.02)
(43.87,0.74)(44.37,0.71)(44.87,0.84)(45.37,0.67)(45.87,0.93)(46.37,0.71)(46.87,0.75)(47.37,0.65)
(47.87,0.94)(48.37,0.72)(48.87,0.67)(49.37,1.22)(49.87,0.67)
(3.62,53.4)(4.12,50.6)(4.62,38.4)(5.12,39.2)(5.62,30.2)(6.12,28.5)(6.62,21.9)(7.12,22.9)(7.62,18.3)
(8.12,15.5)(8.62,16.2)(9.12,12.7)(9.62,10.8)(10.12,11.3)(10.62,9.45)(11.12,10.3)(11.62,7.16)(12.12,7.56)
(12.62,5.41)(13.12,7.67)(13.62,5.35)(14.12,5.67)(14.62,4.08)(15.12,5.31)(15.62,3.85)(16.12,3.12)
(16.62,4.67)(17.12,3.42)(17.62,2.76)(18.12,3.39)(18.62,2.23)(19.12,3.30)(19.62,2.44)(20.12,2.56)
(20.62,1.90)(21.12,2.87)(21.62,1.90)(22.12,2.01)(22.62,1.60)(23.12,2.22)(23.62,1.56)(24.12,1.93)
(24.62,1.37)(25.12,2.06)(25.62,1.51)(26.12,1.77)(26.62,1.24)(27.12,1.94)(27.62,1.25)(28.12,1.08)
(28.62,1.64)(29.12,1.21)(29.62,1.05)(30.12,1.69)(30.62,1.03)(31.12,1.21)(31.62,0.90)(32.12,1.33)
(32.62,0.99)(33.12,1.53)(33.62,0.85)(34.12,1.00)(34.62,0.86)(35.12,1.29)(35.62,0.78)(36.12,1.03)
(36.62,0.85)(37.12,1.40)(37.62,0.76)(38.12,0.85)(38.62,1.06)(39.12,0.72)(39.62,0.77)(40.12,1.16)
(40.62,0.72)(41.12,0.85)(41.62,0.67)(42.12,1.04)(42.62,0.72)(43.12,0.75)(43.62,1.18)(44.12,0.66)
(44.62,0.76)(45.12,0.87)(45.62,0.63)(46.12,0.67)(46.62,1.01)(47.12,0.65)(47.62,0.70)(48.12,0.92)
(48.62,0.62)(49.12,1.18)(49.62,0.65)
};
\addlegendentry{HSA:NQG}
\end{axis}

% residual panels
\begin{axis}[resid, at={(30.5pt,111.5pt)}, title={HSA}]
\addplot[black!70, line width=0.4pt] coordinates {(0,0) (10,0)};
\addplot[resline] table[x expr=0.05+0.025*\coordindex, y index=0] {\resA};
\end{axis}
\begin{axis}[resid, at={(30.5pt,75pt)}, title={HSA:NQA}]
\addplot[black!70, line width=0.4pt] coordinates {(0,0) (10,0)};
\addplot[resline] table[x expr=0.05+0.025*\coordindex, y index=0] {\resB};
\end{axis}
\begin{axis}[resid, at={(30.5pt,39pt)}, title={HSA:NQC}]
\addplot[black!70, line width=0.4pt] coordinates {(0,0) (10,0)};
\addplot[resline] table[x expr=0.05+0.025*\coordindex, y index=0] {\resC};
\end{axis}
\begin{axis}[resid, at={(30.5pt,2pt)}, title={HSA:NQF}]
\addplot[black!70, line width=0.4pt] coordinates {(0,0) (10,0)};
\addplot[resline] table[x expr=0.05+0.025*\coordindex, y index=0] {\resD};
\end{axis}
\end{tikzpicture}
\end{document}
